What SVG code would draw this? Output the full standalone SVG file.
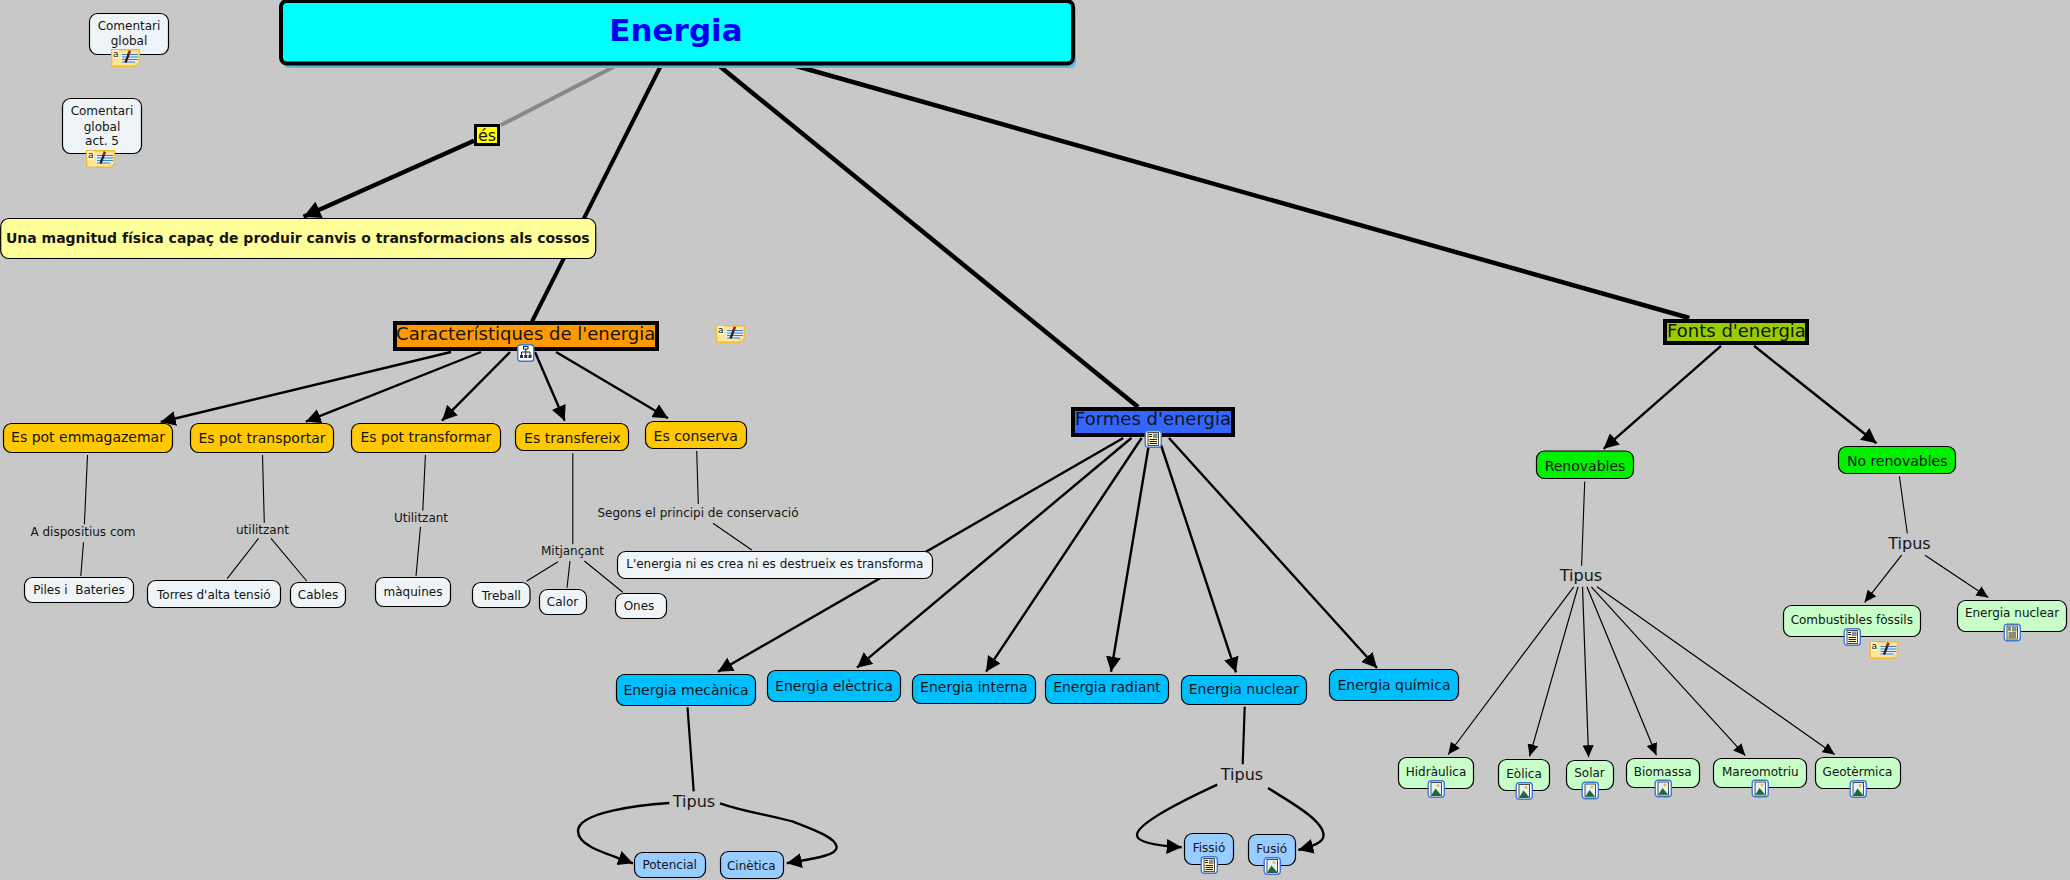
<svg xmlns="http://www.w3.org/2000/svg" xmlns:xlink="http://www.w3.org/1999/xlink" width="2070" height="880" viewBox="0 0 2070 880">
<style>
text{font-family:"DejaVu Sans",Verdana,sans-serif;text-anchor:middle;fill:#141414;white-space:pre}
.s12{font-size:12px}.s14{font-size:14px}.s16{font-size:16px}.s18{font-size:18px}
.n{stroke:#000;stroke-width:1.2}
.w{fill:#eef4f7}.o{fill:#ffc800}.b{fill:#00bfff}.lb{fill:#99ccff}.g{fill:#c8ffc8}.gg{fill:#00f000}
.hd{stroke:#000;stroke-width:4}
.c{fill:none;stroke:#000}
.c1{stroke-width:1.1}.c2{stroke-width:1.2;marker-end:url(#as)}.c3{stroke-width:2.4;marker-end:url(#am)}.c5{stroke-width:4.5}
</style>
<defs>
<marker id="as" markerUnits="userSpaceOnUse" markerWidth="12" markerHeight="11" viewBox="0 0 12 11" refX="12" refY="5.5" orient="auto"><path d="M0 0L12 5.500L0 11z" fill="#000"/></marker>
<marker id="am" markerUnits="userSpaceOnUse" markerWidth="15" markerHeight="15" viewBox="0 0 15 15" refX="15" refY="7.5" orient="auto"><path d="M0 0L15 7.500L0 15z" fill="#000"/></marker>
<marker id="al" markerUnits="userSpaceOnUse" markerWidth="17" markerHeight="18" viewBox="0 0 17 18" refX="17" refY="9" orient="auto"><path d="M0 0L17 9L0 18z" fill="#000"/></marker>
<g id="note">
<path d="M0.7 0.7H28.3V14L24 17.3H0.7z" fill="#fde59a" stroke="#f0bc3a" stroke-width="1.4"/>
<path d="M24 17.3V14H28.3z" fill="#fff3c4" stroke="#f0bc3a" stroke-width="0.8"/>
<rect x="10" y="4.500" width="17" height="9" fill="#e6eef5"/>
<path d="M11 5.500H27M11 8H27M11 10.500H27M11 13H24" stroke="#3a7fc4" stroke-width="1"/>
<path d="M14.500 13.500L17.800 5" stroke="#222" stroke-width="2.200"/><path d="M17.500 5.500L19 1.800" stroke="#9c1c1c" stroke-width="2.600"/>
<rect x="1.500" y="1" width="6.500" height="9" fill="#fff6cc"/>
<text x="4.800" y="8" style="font-size:9px">a</text>
</g>
<g id="frame"><rect x="0.7" y="0.7" width="16.100" height="16.600" rx="3" fill="#fff" stroke="#3f78d0" stroke-width="1.4"/></g>
<g id="doc"><use xlink:href="#frame"/><rect x="3.500" y="2.500" width="10.500" height="13" fill="#fbf4c0" stroke="#222" stroke-width="0.8"/><path d="M5 9.500H12.500M5 11.500H12.500M5 13.500H12.500" stroke="#222"/><rect x="8.500" y="3.500" width="4.500" height="4.500" fill="#7d8fa8"/><path d="M4.500 4.500H7.500M4.500 6.500H7.500" stroke="#222"/></g>
<g id="img"><use xlink:href="#frame"/><rect x="3.500" y="2.500" width="10.500" height="13" fill="#e6f0fa" stroke="#222" stroke-width="0.8"/><circle cx="10.500" cy="5.500" r="1.500" fill="#e8c030"/><path d="M4 15L8 8.500L13.500 15z" fill="#1c6b2c"/></g>
<g id="cmap"><use xlink:href="#frame"/><path d="M8.800 5V8M4.500 11V8H13V11M8.800 8V11" stroke="#223" fill="none"/><rect x="6.500" y="2.500" width="4.500" height="2.500" fill="#fff" stroke="#223"/><rect x="3" y="11" width="3" height="3" fill="#334"/><rect x="7.300" y="11" width="3" height="3" fill="#334"/><rect x="11.500" y="11" width="3" height="3" fill="#334"/></g>
</defs>
<rect width="2070" height="880" fill="#c8c8c8"/>
<g id="connectors">
<path d="M614 66.700L501 125" fill="none" stroke="#888" stroke-width="4"/>
<path d="M474 140.700L303.600 216.700" class="c" stroke-width="4.500" marker-end="url(#al)"/>
<path d="M660.700 66L532 321.500" class="c" stroke-width="4"/>
<path d="M717 64L1138 407" class="c c5"/>
<path d="M796 66L1689.400 318" class="c c5"/>
<path d="M451 352L160.700 422" class="c c3"/>
<path d="M481 352L305.800 421.700" class="c c3"/>
<path d="M510 352L442 420.700" class="c c3"/>
<path d="M535 352L564.700 420.700" class="c c3"/>
<path d="M556 352L668 418.300" class="c c3"/>
<path d="M87.500 455L84.400 524.300M83.500 542.300L80.800 576" class="c c1"/>
<path d="M262.500 455L264.300 522.700M258.500 538.300L227.200 578.700M271 538.300L306.700 581" class="c c1"/>
<path d="M425.400 455L422.800 510.700M420.500 526.700L416 576" class="c c1"/>
<path d="M572.800 453.300V544.300M558 561.700L526.800 581M570 561L567 587.700M584.400 561L622.800 592.300" class="c c1"/>
<path d="M696.700 451L698.300 504M713 523.300L751.800 550" class="c c1"/>
<path d="M1123.300 438L718 671.700" class="c c3"/>
<path d="M1131.400 438L857 667.700" class="c c3"/>
<path d="M1141.600 438L986 671.700" class="c c3"/>
<path d="M1148.800 445L1111 671.700" class="c c3"/>
<path d="M1161 445L1236 672.300" class="c c3"/>
<path d="M1169 438L1377 668" class="c c3"/>
<path d="M687.500 707.300L693.700 791.300" class="c" stroke-width="2.200"/>
<path d="M669.300 803C640 805 578 812 578 831C578 846 605 853 633 863.300" class="c c3"/>
<path d="M720 803.300C745 812 770 815 793.300 821.700C815 830 836 838 836.700 847C837 856 810 859 786.700 863.300" class="c c3"/>
<path d="M1244.700 706.700L1242.700 764.300" class="c" stroke-width="2.200"/>
<path d="M1217.300 784.700C1195 795 1137 822 1137 835C1137 843 1160 846 1181.700 847.300" class="c c3"/>
<path d="M1268 788C1290 802 1323 820 1323.500 835C1324 843 1310 847 1298.300 850" class="c c3"/>
<path d="M1721 345.800L1603.600 448.800" class="c c3"/>
<path d="M1754 345.800L1876.500 443.300" class="c c3"/>
<path d="M1584.700 481.500L1581.600 565.800M1899.400 476.300L1907.300 533.500" class="c c1"/>
<path d="M1901.600 555.200L1864.600 602.300" class="c c2"/>
<path d="M1925 555.200L1988.300 597.500" class="c c2"/>
<path d="M1573.700 586.800L1448.200 754.500" class="c c2"/>
<path d="M1578 586.800L1529.600 756.300" class="c c2"/>
<path d="M1582.500 586.800L1588.600 757.300" class="c c2"/>
<path d="M1586.900 586.800L1656.400 755.200" class="c c2"/>
<path d="M1591.300 586.800L1745.300 755.600" class="c c2"/>
<path d="M1597 586.800L1834.700 754.500" class="c c2"/>
</g>
<g id="n-energia"><rect x="283" y="4" width="793" height="64" rx="6" fill="#5bb8de"/><rect x="281" y="1" width="792" height="62.500" rx="6" fill="#00ffff" class="hd"/><text x="676" y="41" style="font-size:31px;font-weight:bold;fill:#0000f0">Energia</text></g>
<g id="n-es"><rect x="475.500" y="125.500" width="23" height="19" fill="#ffff00" stroke="#000" stroke-width="3"/><text x="487" y="141" class="s16">és</text></g>
<g id="n-una"><rect x="0.700" y="218.500" width="595" height="40" rx="8" fill="#ffff99" class="n"/><text x="297.800" y="243" style="font-size:14px;font-weight:bold">Una magnitud física capaç de produir canvis o transformacions als cossos</text></g>
<g id="n-com1"><rect x="89.500" y="13.500" width="79" height="41" rx="8" class="n w"/><text x="129" y="30" class="s12">Comentari</text><text x="129" y="44.700" class="s12">global</text><use xlink:href="#note" x="111" y="49"/></g>
<g id="n-com2"><rect x="62.500" y="98.500" width="79" height="55" rx="8" class="n w"/><text x="102" y="115" class="s12">Comentari</text><text x="102" y="130.700" class="s12">global</text><text x="102" y="145" class="s12">act. 5</text><use xlink:href="#note" x="86" y="150"/></g>
<g id="n-note-car"><use xlink:href="#note" x="716" y="325"/></g>
<g id="n-car"><rect x="395" y="323" width="262" height="26" fill="#ff9900" class="hd"/><text x="525.700" y="340" class="s18">Característiques de l'energia</text><use xlink:href="#cmap" x="517" y="344"/></g>
<g id="n-emm"><rect x="3.500" y="423.500" width="169" height="29" rx="8" class="n o"/><text x="88" y="441.500" class="s14">Es pot emmagazemar</text></g>
<g id="n-tra"><rect x="190.500" y="423.500" width="143" height="29" rx="8" class="n o"/><text x="262" y="442.700" class="s14">Es pot transportar</text></g>
<g id="n-tfm"><rect x="351.500" y="423.500" width="149" height="29" rx="8" class="n o"/><text x="425.900" y="442" class="s14">Es pot transformar</text></g>
<g id="n-tfx"><rect x="515.500" y="423.500" width="113" height="27" rx="8" class="n o"/><text x="572.300" y="443" class="s14">Es transfereix</text></g>
<g id="n-con"><rect x="645.500" y="421.500" width="101" height="27" rx="8" class="n o"/><text x="695.700" y="440.700" class="s14">Es conserva</text></g>
<g id="l1"><text x="83" y="536" class="s12">A dispositius com</text></g>
<g id="l2"><text x="262.500" y="534.300" class="s12">utilitzant</text></g>
<g id="l3"><text x="421" y="522.300" class="s12">Utilitzant</text></g>
<g id="l4"><text x="572.500" y="555" class="s12">Mitjançant</text></g>
<g id="l5"><text x="698" y="517" class="s12">Segons el principi de conservació</text></g>
<g id="n-pil"><rect x="24.500" y="577.500" width="109" height="25" rx="8" class="n w"/><text x="79" y="594.300" class="s12">Piles i  Bateries</text></g>
<g id="n-tor"><rect x="147.500" y="580.500" width="133" height="27" rx="8" class="n w"/><text x="213.800" y="599" class="s12">Torres d'alta tensió</text></g>
<g id="n-cab"><rect x="290.500" y="582.500" width="55" height="25" rx="8" class="n w"/><text x="318" y="599" class="s12">Cables</text></g>
<g id="n-maq"><rect x="375.500" y="577.500" width="75" height="29" rx="8" class="n w"/><text x="413" y="596.300" class="s12">màquines</text></g>
<g id="n-tre"><rect x="472.500" y="582.500" width="57.500" height="25" rx="8" class="n w"/><text x="501.300" y="599.700" class="s12">Treball</text></g>
<g id="n-cal"><rect x="539.500" y="589.500" width="47" height="25" rx="8" class="n w"/><text x="562.500" y="606.300" class="s12">Calor</text></g>
<g id="n-one"><rect x="615.500" y="593.500" width="51" height="25" rx="8" class="n w"/><text x="639" y="610.300" class="s12">Ones</text></g>
<g id="n-llei"><rect x="617.500" y="551.500" width="315" height="27" rx="8" class="n w"/><text x="774.800" y="568.300" class="s12">L'energia ni es crea ni es destrueix es transforma</text></g>
<g id="n-for"><rect x="1073" y="409" width="160" height="26" fill="#3366ff" class="hd"/><text x="1153" y="424.700" class="s18">Formes d'energia</text><use xlink:href="#doc" x="1144.500" y="430"/></g>
<g id="n-mec"><rect x="616.500" y="674.500" width="139" height="31" rx="8" class="n b"/><text x="686" y="694.700" class="s14">Energia mecànica</text></g>
<g id="n-ele"><rect x="767.500" y="670.500" width="133" height="31" rx="8" class="n b"/><text x="834" y="690.700" class="s14">Energia elèctrica</text></g>
<g id="n-int"><rect x="912.500" y="674.500" width="123" height="29" rx="8" class="n b"/><text x="973.800" y="692.300" class="s14">Energia interna</text></g>
<g id="n-rad"><rect x="1045.500" y="674.500" width="123" height="29" rx="8" class="n b"/><text x="1107" y="692.300" class="s14">Energia radiant</text></g>
<g id="n-nuc"><rect x="1181.500" y="675.500" width="125" height="29" rx="8" class="n b"/><text x="1243.700" y="693.700" class="s14">Energia nuclear</text></g>
<g id="n-qui"><rect x="1329.500" y="669.500" width="129" height="31" rx="8" class="n b"/><text x="1394" y="689.500" class="s14">Energia química</text></g>
<g id="t1"><text x="694" y="807" class="s16">Tipus</text></g>
<g id="t2"><text x="1242" y="780" class="s16">Tipus</text></g>
<g id="t3"><text x="1581" y="580.600" class="s16">Tipus</text></g>
<g id="t4"><text x="1909.500" y="548.600" class="s16">Tipus</text></g>
<g id="n-pot"><rect x="634.500" y="852.500" width="71" height="25" rx="8" class="n lb"/><text x="669.700" y="869" class="s12">Potencial</text></g>
<g id="n-cin"><rect x="720.500" y="851.500" width="63" height="27" rx="8" class="n lb"/><text x="751.300" y="870" class="s12">Cinètica</text></g>
<g id="n-fis"><rect x="1184.500" y="833.500" width="49" height="31" rx="8" class="n lb"/><text x="1209" y="851.700" class="s12">Fissió</text><use xlink:href="#doc" x="1200.500" y="856"/></g>
<g id="n-fus"><rect x="1248.500" y="834.500" width="47" height="31" rx="8" class="n lb"/><text x="1271.700" y="852.700" class="s12">Fusió</text><use xlink:href="#img" x="1263.500" y="857"/></g>
<g id="n-fon"><rect x="1665" y="321" width="142" height="22" fill="#99cc00" class="hd"/><text x="1736.500" y="336.500" class="s18">Fonts d'energia</text></g>
<g id="n-ren"><rect x="1536.500" y="451" width="97" height="27.500" rx="8" class="n gg"/><text x="1585" y="471" class="s14">Renovables</text></g>
<g id="n-nor"><rect x="1838.500" y="446.500" width="117" height="27" rx="8" class="n gg"/><text x="1897.200" y="466" class="s14">No renovables</text></g>
<g id="n-com"><rect x="1783.500" y="605.500" width="137" height="31" rx="8" class="n g"/><text x="1851.800" y="624" class="s12">Combustibles fòssils</text><use xlink:href="#doc" x="1843.500" y="628"/><use xlink:href="#note" x="1869.500" y="641"/></g>
<g id="n-enu"><rect x="1957.500" y="600.500" width="109" height="31" rx="8" class="n g"/><text x="2012" y="617" class="s12">Energia nuclear</text><use xlink:href="#doc" x="2003.500" y="623.500"/></g>
<g id="n-hid"><rect x="1398.500" y="757.500" width="75" height="31" rx="8" class="n g"/><text x="1436" y="775.900" class="s12">Hidràulica</text><use xlink:href="#img" x="1427.500" y="780"/></g>
<g id="n-eol"><rect x="1498.500" y="759.500" width="51" height="31" rx="8" class="n g"/><text x="1524" y="778" class="s12">Eòlica</text><use xlink:href="#img" x="1515.500" y="782"/></g>
<g id="n-sol"><rect x="1566.500" y="760.500" width="47" height="29" rx="8" class="n g"/><text x="1589.500" y="777.300" class="s12">Solar</text><use xlink:href="#img" x="1581.500" y="781.500"/></g>
<g id="n-bio"><rect x="1626.500" y="758.500" width="73" height="29" rx="8" class="n g"/><text x="1662.600" y="776" class="s12">Biomassa</text><use xlink:href="#img" x="1654.500" y="779.500"/></g>
<g id="n-mar"><rect x="1713.500" y="758.500" width="93" height="29" rx="8" class="n g"/><text x="1760.300" y="776" class="s12">Mareomotriu</text><use xlink:href="#img" x="1751.500" y="779.500"/></g>
<g id="n-geo"><rect x="1815.500" y="757.500" width="85" height="31" rx="8" class="n g"/><text x="1857.500" y="776" class="s12">Geotèrmica</text><use xlink:href="#img" x="1849.500" y="780"/></g>
</svg>
